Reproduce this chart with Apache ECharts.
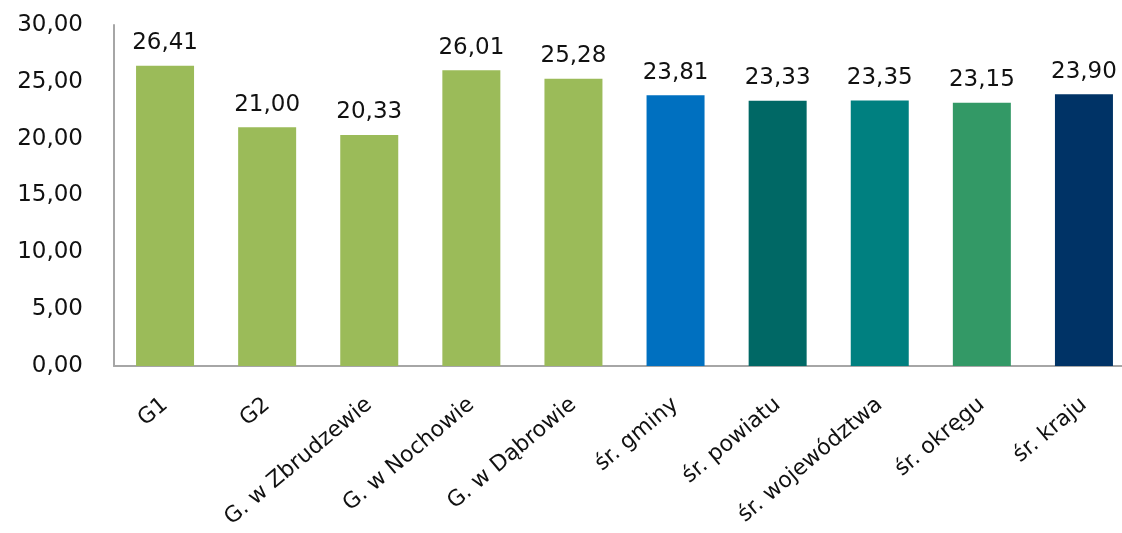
<!DOCTYPE html>
<html>
<head>
<meta charset="utf-8">
<script src="https://cdn.jsdelivr.net/npm/echarts@6/dist/echarts.min.js"></script>
<style>html,body{margin:0;padding:0;background:#fff}#c{width:1122px;height:533px}</style>
</head>
<body>
<div id="c"></div>
<script>
var categories = ["G1", "G2", "G. w Zbrudzewie", "G. w Nochowie", "G. w Dąbrowie", "śr. gminy", "śr. powiatu", "śr. województwa", "śr. okręgu", "śr. kraju"];
var values = [26.41, 21.00, 20.33, 26.01, 25.28, 23.81, 23.33, 23.35, 23.15, 23.90];
var colors = ["#9BBB59", "#9BBB59", "#9BBB59", "#9BBB59", "#9BBB59", "#0070C0", "#006865", "#008080", "#339966", "#003366"];

var chart = echarts.init(document.getElementById('c'));
var fmt = function (v) { return Number(v).toFixed(2).replace('.', ','); };
var FONT = 'DejaVu Sans';
chart.setOption({
  animation: false,
  grid: { left: 114, top: 25, width: 1021, height: 341, containLabel: false, outerBoundsMode: 'none' },
  xAxis: {
    type: 'category',
    data: categories,
    axisLine: { lineStyle: { color: '#A6A6A6', width: 2 } },
    axisTick: { show: false },
    axisLabel: { rotate: 40, color: '#111', fontFamily: FONT, fontSize: 22, margin: 36, interval: 0 }
  },
  yAxis: {
    type: 'value',
    min: 0, max: 30, interval: 5,
    axisLine: { show: true, lineStyle: { color: '#A6A6A6', width: 2 } },
    axisTick: { show: false },
    splitLine: { show: false },
    axisLabel: { color: '#111', fontFamily: FONT, fontSize: 23, margin: 31, formatter: fmt }
  },
  series: [{
    type: 'bar',
    barWidth: 58,
    data: values.map(function (v, i) { return { value: v, itemStyle: { color: colors[i] } }; }),
    label: { show: true, position: 'top', distance: 11, color: '#111', fontFamily: FONT, fontSize: 23, formatter: function (p) { return fmt(p.value); } }
  }]
});
</script>
</body>
</html>
